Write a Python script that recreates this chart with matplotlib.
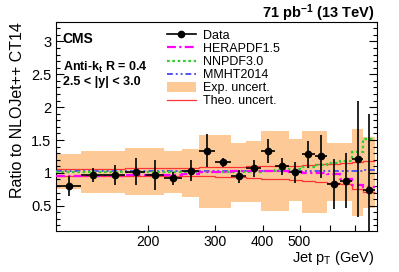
import numpy as np
import matplotlib
matplotlib.use("Agg")
import matplotlib.pyplot as plt
from matplotlib.lines import Line2D
from matplotlib.patches import Patch

plt.rcParams['font.family'] = ['Liberation Sans', 'DejaVu Sans']
plt.rcParams['mathtext.fontset'] = 'custom'
plt.rcParams['mathtext.rm'] = 'Liberation Sans'
plt.rcParams['mathtext.it'] = 'Liberation Sans:italic'
plt.rcParams['mathtext.bf'] = 'Liberation Sans:bold'

# jet pT bin edges (GeV)
pt_edges = [114, 133, 153, 174, 196, 220, 245, 272, 300, 330, 362, 395,
            430, 468, 507, 548, 592, 638, 686, 737, 790]
# data / NLOJet++ CT14
ratio = [0.80, 0.97, 0.97, 1.02, 0.97, 0.92, 1.03, 1.34, 1.16, 0.95,
         1.07, 1.33, 1.10, 1.01, 1.28, 1.25, 0.83, 0.88, 1.21, 0.74]
ratio_err = [0.15, 0.105, 0.15, 0.21, 0.23, 0.10, 0.16, 0.25, 0.07, 0.10,
             0.13, 0.18, 0.13, 0.16, 0.20, 0.33, 0.38, 0.42, 0.88, 1.15]
# experimental uncertainty band
exp_lo = [0.76, 0.70, 0.70, 0.66, 0.66, 0.70, 0.63, 0.46, 0.46, 0.56,
          0.56, 0.42, 0.42, 0.57, 0.39, 0.39, 0.57, 0.57, 0.34, 0.47]
exp_hi = [1.28, 1.34, 1.34, 1.38, 1.38, 1.34, 1.36, 1.58, 1.58, 1.45,
          1.48, 1.63, 1.63, 1.51, 1.63, 1.63, 1.46, 1.46, 1.67, 1.55]
# theory uncertainty
theo_lo = [0.95, 0.95, 0.95, 0.95, 0.95, 0.95, 0.95, 0.95, 0.94, 0.93,
           0.92, 0.91, 0.90, 0.89, 0.87, 0.86, 0.84, 0.83, 0.76, 0.71]
theo_hi = [1.06, 1.06, 1.065, 1.07, 1.07, 1.075, 1.08, 1.085, 1.09, 1.095,
           1.10, 1.10, 1.10, 1.11, 1.12, 1.13, 1.14, 1.15, 1.16, 1.18]
# other PDF sets
hera = [0.955, 0.955, 0.955, 0.96, 0.96, 0.97, 0.99, 1.01, 1.02, 1.03,
        1.03, 1.03, 1.03, 1.01, 1.00, 1.00, 0.99, 0.90, 0.82, 0.78]
nnpdf = [1.01, 1.01, 1.01, 1.01, 1.01, 1.01, 1.01, 1.01, 1.01, 1.01,
         1.01, 1.03, 1.04, 1.06, 1.09, 1.12, 1.15, 1.18, 1.32, 1.52]
mmht = [1.03, 1.03, 1.03, 1.03, 1.03, 1.03, 1.03, 1.03, 1.025, 1.025,
        1.025, 1.025, 1.025, 1.025, 1.025, 1.025, 1.03, 1.03, 1.03, 1.04]

edges = np.array(pt_edges, dtype=float)
pt = 0.5 * (edges[:-1] + edges[1:])
xerr = [pt - edges[:-1], edges[1:] - pt]

c_exp = '#fcc997'
c_hera = '#ff00ff'
c_nnpdf = '#33cc33'
c_mmht = '#5555ee'
c_theo = '#ff3333'

fig = plt.figure(figsize=(3.99, 2.72), dpi=100)
ax = fig.add_axes([0.1396, 0.152, 0.8053, 0.768])

ax.stairs(exp_hi, edges, baseline=exp_lo, fill=True, color=c_exp, lw=0, zorder=1)
ax.stairs(theo_hi, edges, color=c_theo, lw=0.9, baseline=None, zorder=2)
ax.stairs(theo_lo, edges, color=c_theo, lw=0.9, baseline=None, zorder=2)
ax.stairs(mmht, edges, color=c_mmht, lw=1.4, ls=(0, (3, 1.5, 1, 1.5, 1, 1.5)),
          baseline=None, zorder=3)
ax.stairs(nnpdf, edges, color=c_nnpdf, lw=1.6, ls=(0, (1.2, 1.2)),
          baseline=None, zorder=3)
ax.stairs(hera, edges, color=c_hera, lw=1.6, ls=(0, (4, 1.5, 1, 1.5)),
          baseline=None, zorder=3)
ax.errorbar(pt, ratio, yerr=ratio_err, xerr=xerr, fmt='o', color='k',
            ms=4.5, lw=1.2, capsize=0, zorder=5)

ax.set_xscale('log')
ax.set_xlim(114, 800)
ax.set_ylim(0.12, 3.3)
ax.set_xticks([200, 300, 400, 500, 600, 700])
ax.set_xticklabels(['200', '300', '400', '500', '', ''])
ax.xaxis.set_minor_locator(matplotlib.ticker.NullLocator())
ax.set_yticks([0.5, 1, 1.5, 2, 2.5, 3])
ax.set_yticklabels(['0.5', '1', '1.5', '2', '2.5', '3'])
ax.yaxis.set_minor_locator(matplotlib.ticker.MultipleLocator(0.1))
ax.tick_params(axis='both', which='both', direction='in', labelsize=10.5)
ax.tick_params(axis='y', which='major', length=6, width=0.8, right=True, pad=3)
ax.tick_params(axis='y', which='minor', length=3, width=0.8, right=True)
ax.tick_params(axis='x', which='major', length=4, width=0.8, pad=3,
               labelsize=10)
for s in ax.spines.values():
    s.set_linewidth(0.8)

handles = [
    Line2D([], [], color='k', marker='o', ms=4.5, lw=1.2),
    Line2D([], [], color=c_hera, lw=1.6, ls=(0, (4, 1.5, 1, 1.5))),
    Line2D([], [], color=c_nnpdf, lw=1.6, ls=(0, (1.2, 1.2))),
    Line2D([], [], color=c_mmht, lw=1.4, ls=(0, (3, 1.5, 1, 1.5, 1, 1.5))),
    Patch(facecolor=c_exp, edgecolor='none'),
    Line2D([], [], color=c_theo, lw=0.9),
]
labels = ['Data', 'HERAPDF1.5', 'NNPDF3.0', 'MMHT2014', 'Exp. uncert.', 'Theo. uncert.']
ax.legend(handles, labels, loc='upper left', bbox_to_anchor=(0.3465, 0.962),
          frameon=False, fontsize=9, borderpad=0, borderaxespad=0,
          handlelength=2.3, handleheight=0.8, handletextpad=0.55,
          labelspacing=0.08)

ax.text(0.022, 0.917, 'CMS', transform=ax.transAxes, fontsize=10,
        fontweight='bold', va='center', ha='left')
ax.text(0.022, 0.783, r'Anti-k$_{\mathbf{t}}$ R = 0.4', transform=ax.transAxes,
        fontsize=9, fontweight='bold', va='center', ha='left')
ax.text(0.022, 0.711, '2.5 < |y| < 3.0', transform=ax.transAxes,
        fontsize=9, fontweight='bold', va='center', ha='left')

fig.text(0.94, 0.953, r'71 pb$^{\mathbf{-1}}$ (13 TeV)', fontsize=10.5,
         fontweight='bold', ha='right', va='center')
fig.text(17.5 / 399, 1 - 21.7 / 272, 'Ratio to NLOJet++ CT14', rotation=90,
         fontsize=11.5, ha='center', va='top')
fig.text(0.94, 0.038, r'Jet p$_{\mathrm{T}}$ (GeV)', fontsize=10.5,
         ha='right', va='baseline')

fig.savefig('out.png', dpi=100)
